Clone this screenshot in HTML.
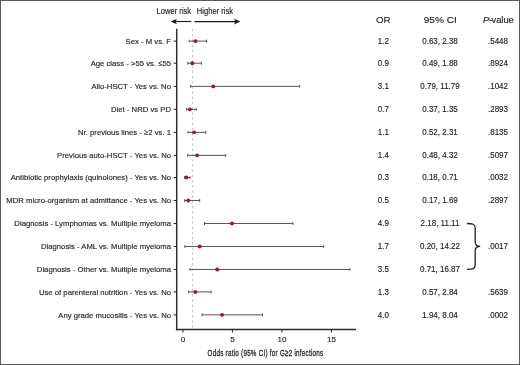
<!DOCTYPE html><html><head><meta charset="utf-8"><style>
html,body{margin:0;padding:0;background:#fff;}
body{width:520px;height:365px;overflow:hidden;position:relative;}
svg{position:absolute;left:0;top:0;will-change:transform;}
text{font-family:"Liberation Sans",sans-serif;fill:#222;stroke:#222;stroke-width:0.14px;}
</style></head><body>
<svg width="520" height="365" viewBox="0 0 520 365">
<rect x="0" y="0" width="520" height="365" fill="#fff"/>
<rect x="0.5" y="0.5" width="519" height="364" fill="none" stroke="#5a5a5a" stroke-width="1"/>
<text x="0" y="0" font-size="8.2" text-anchor="start" transform="translate(156.60 13.60) scale(0.9268 1)">Lower risk</text>
<text x="0" y="0" font-size="8.2" text-anchor="start" transform="translate(196.80 13.60) scale(0.9268 1)">Higher risk</text>
<line x1="175" y1="21.5" x2="191.2" y2="21.5" stroke="#1a1a1a" stroke-width="1.1"/>
<path d="M170.6 21.5 L176.9 18.7 L175.5 21.5 L176.9 24.3 Z" fill="#1a1a1a"/>
<line x1="194.5" y1="21.6" x2="236" y2="21.6" stroke="#1a1a1a" stroke-width="1.1"/>
<path d="M240.3 21.6 L234.0 18.8 L235.4 21.6 L234.0 24.4 Z" fill="#1a1a1a"/>
<line x1="192.6" y1="29" x2="192.6" y2="328.5" stroke="#c4c4c4" stroke-width="1" stroke-dasharray="2.5,2.7"/>
<line x1="176.7" y1="28.8" x2="176.7" y2="330.25" stroke="#2b2b2b" stroke-width="1.45"/>
<line x1="175.89999999999998" y1="329.5" x2="356" y2="329.5" stroke="#2b2b2b" stroke-width="1.45"/>
<line x1="182.93" y1="329.5" x2="182.93" y2="332.5" stroke="#222" stroke-width="1"/>
<text x="182.93" y="342.20" font-size="8.0" text-anchor="middle">0</text>
<line x1="232.43" y1="329.5" x2="232.43" y2="332.5" stroke="#222" stroke-width="1"/>
<text x="232.43" y="342.20" font-size="8.0" text-anchor="middle">5</text>
<line x1="281.93" y1="329.5" x2="281.93" y2="332.5" stroke="#222" stroke-width="1"/>
<text x="281.93" y="342.20" font-size="8.0" text-anchor="middle">10</text>
<line x1="331.43" y1="329.5" x2="331.43" y2="332.5" stroke="#222" stroke-width="1"/>
<text x="331.43" y="342.20" font-size="8.0" text-anchor="middle">15</text>
<text x="0" y="0" font-size="9.6" text-anchor="start" transform="translate(207.60 355.90) scale(0.6500 1)" letter-spacing="0.42" style="stroke-width:0.3px">Odds ratio (95% CI) for G≥2 infections</text>
<text x="383.30" y="23.10" font-size="9.7" text-anchor="middle">OR</text>
<text x="0" y="0" font-size="9.7" text-anchor="middle" transform="translate(440.20 23.10) scale(1.0400 1)">95% CI</text>
<text x="0" y="0" font-size="9.7" text-anchor="middle" transform="translate(498.40 23.10) scale(0.9650 1)"><tspan font-style="italic">P</tspan><tspan dx="-0.3">-</tspan><tspan dx="-0.6">value</tspan></text>
<text x="0" y="0" font-size="8.1" text-anchor="end" transform="translate(171.00 43.95) scale(0.9531 1)">Sex - M vs. F</text>
<line x1="173.7" y1="41.10" x2="176.7" y2="41.10" stroke="#222" stroke-width="1"/>
<line x1="189.17" y1="41.10" x2="206.49" y2="41.10" stroke="#555" stroke-width="1"/>
<line x1="189.17" y1="39.70" x2="189.17" y2="42.50" stroke="#555" stroke-width="1"/>
<line x1="206.49" y1="39.70" x2="206.49" y2="42.50" stroke="#555" stroke-width="1"/>
<circle cx="195.40" cy="41.10" r="1.95" fill="#a6132d"/>
<text x="0" y="0" font-size="8.2" text-anchor="middle" transform="translate(383.40 43.95) scale(0.9756 1)">1.2</text>
<text x="0" y="0" font-size="8.2" text-anchor="middle" transform="translate(440.00 43.95) scale(0.9756 1)">0.63, 2.38</text>
<text x="0" y="0" font-size="8.2" text-anchor="middle" transform="translate(498.00 43.95) scale(0.9756 1)">.5448</text>
<text x="0" y="0" font-size="8.1" text-anchor="end" transform="translate(171.00 66.05) scale(0.9531 1)">Age class - &gt;55 vs. ≤55</text>
<line x1="173.7" y1="63.20" x2="176.7" y2="63.20" stroke="#222" stroke-width="1"/>
<line x1="187.78" y1="63.20" x2="201.54" y2="63.20" stroke="#555" stroke-width="1"/>
<line x1="187.78" y1="61.80" x2="187.78" y2="64.60" stroke="#555" stroke-width="1"/>
<line x1="201.54" y1="61.80" x2="201.54" y2="64.60" stroke="#555" stroke-width="1"/>
<circle cx="192.30" cy="63.20" r="1.95" fill="#a6132d"/>
<text x="0" y="0" font-size="8.2" text-anchor="middle" transform="translate(383.40 66.05) scale(0.9756 1)">0.9</text>
<text x="0" y="0" font-size="8.2" text-anchor="middle" transform="translate(440.00 66.05) scale(0.9756 1)">0.49, 1.88</text>
<text x="0" y="0" font-size="8.2" text-anchor="middle" transform="translate(498.00 66.05) scale(0.9756 1)">.8924</text>
<text x="0" y="0" font-size="8.1" text-anchor="end" transform="translate(171.00 89.23) scale(0.9531 1)">Allo-HSCT - Yes vs. No</text>
<line x1="173.7" y1="86.38" x2="176.7" y2="86.38" stroke="#222" stroke-width="1"/>
<line x1="190.75" y1="86.38" x2="299.65" y2="86.38" stroke="#555" stroke-width="1"/>
<line x1="190.75" y1="84.98" x2="190.75" y2="87.78" stroke="#555" stroke-width="1"/>
<line x1="299.65" y1="84.98" x2="299.65" y2="87.78" stroke="#555" stroke-width="1"/>
<circle cx="213.30" cy="86.38" r="1.95" fill="#a6132d"/>
<text x="0" y="0" font-size="8.2" text-anchor="middle" transform="translate(383.40 89.23) scale(0.9756 1)">3.1</text>
<text x="0" y="0" font-size="8.2" text-anchor="middle" transform="translate(440.00 89.23) scale(0.9756 1)">0.79, 11.79</text>
<text x="0" y="0" font-size="8.2" text-anchor="middle" transform="translate(498.00 89.23) scale(0.9756 1)">.1042</text>
<text x="0" y="0" font-size="8.1" text-anchor="end" transform="translate(171.00 112.19) scale(0.9531 1)">Diet - NRD vs PD</text>
<line x1="173.7" y1="109.34" x2="176.7" y2="109.34" stroke="#222" stroke-width="1"/>
<line x1="186.59" y1="109.34" x2="196.30" y2="109.34" stroke="#555" stroke-width="1"/>
<line x1="186.59" y1="107.94" x2="186.59" y2="110.74" stroke="#555" stroke-width="1"/>
<line x1="196.30" y1="107.94" x2="196.30" y2="110.74" stroke="#555" stroke-width="1"/>
<circle cx="189.90" cy="109.34" r="1.95" fill="#a6132d"/>
<text x="0" y="0" font-size="8.2" text-anchor="middle" transform="translate(383.40 112.19) scale(0.9756 1)">0.7</text>
<text x="0" y="0" font-size="8.2" text-anchor="middle" transform="translate(440.00 112.19) scale(0.9756 1)">0.37, 1.35</text>
<text x="0" y="0" font-size="8.2" text-anchor="middle" transform="translate(498.00 112.19) scale(0.9756 1)">.2893</text>
<text x="0" y="0" font-size="8.1" text-anchor="end" transform="translate(171.00 135.19) scale(0.9531 1)">Nr. previous lines - ≥2 vs. 1</text>
<line x1="173.7" y1="132.34" x2="176.7" y2="132.34" stroke="#222" stroke-width="1"/>
<line x1="188.08" y1="132.34" x2="205.80" y2="132.34" stroke="#555" stroke-width="1"/>
<line x1="188.08" y1="130.94" x2="188.08" y2="133.74" stroke="#555" stroke-width="1"/>
<line x1="205.80" y1="130.94" x2="205.80" y2="133.74" stroke="#555" stroke-width="1"/>
<circle cx="194.10" cy="132.34" r="1.95" fill="#a6132d"/>
<text x="0" y="0" font-size="8.2" text-anchor="middle" transform="translate(383.40 135.19) scale(0.9756 1)">1.1</text>
<text x="0" y="0" font-size="8.2" text-anchor="middle" transform="translate(440.00 135.19) scale(0.9756 1)">0.52, 2.31</text>
<text x="0" y="0" font-size="8.2" text-anchor="middle" transform="translate(498.00 135.19) scale(0.9756 1)">.8135</text>
<text x="0" y="0" font-size="8.1" text-anchor="end" transform="translate(171.00 158.19) scale(0.9531 1)">Previous auto-HSCT - Yes vs. No</text>
<line x1="173.7" y1="155.34" x2="176.7" y2="155.34" stroke="#222" stroke-width="1"/>
<line x1="187.68" y1="155.34" x2="225.70" y2="155.34" stroke="#555" stroke-width="1"/>
<line x1="187.68" y1="153.94" x2="187.68" y2="156.74" stroke="#555" stroke-width="1"/>
<line x1="225.70" y1="153.94" x2="225.70" y2="156.74" stroke="#555" stroke-width="1"/>
<circle cx="197.05" cy="155.34" r="1.95" fill="#a6132d"/>
<text x="0" y="0" font-size="8.2" text-anchor="middle" transform="translate(383.40 158.19) scale(0.9756 1)">1.4</text>
<text x="0" y="0" font-size="8.2" text-anchor="middle" transform="translate(440.00 158.19) scale(0.9756 1)">0.48, 4.32</text>
<text x="0" y="0" font-size="8.2" text-anchor="middle" transform="translate(498.00 158.19) scale(0.9756 1)">.5097</text>
<text x="0" y="0" font-size="8.1" text-anchor="end" transform="translate(171.00 180.35) scale(0.9531 1)">Antibiotic prophylaxis (quinolones) - Yes vs. No</text>
<line x1="173.7" y1="177.50" x2="176.7" y2="177.50" stroke="#222" stroke-width="1"/>
<line x1="184.71" y1="177.50" x2="189.96" y2="177.50" stroke="#555" stroke-width="1"/>
<line x1="184.71" y1="176.10" x2="184.71" y2="178.90" stroke="#555" stroke-width="1"/>
<line x1="189.96" y1="176.10" x2="189.96" y2="178.90" stroke="#555" stroke-width="1"/>
<circle cx="186.30" cy="177.50" r="1.95" fill="#a6132d"/>
<text x="0" y="0" font-size="8.2" text-anchor="middle" transform="translate(383.40 180.35) scale(0.9756 1)">0.3</text>
<text x="0" y="0" font-size="8.2" text-anchor="middle" transform="translate(440.00 180.35) scale(0.9756 1)">0.18, 0.71</text>
<text x="0" y="0" font-size="8.2" text-anchor="middle" transform="translate(498.00 180.35) scale(0.9756 1)">.0032</text>
<text x="0" y="0" font-size="8.1" text-anchor="end" transform="translate(171.00 203.33) scale(0.9531 1)">MDR micro-organism at admittance - Yes vs. No</text>
<line x1="173.7" y1="200.48" x2="176.7" y2="200.48" stroke="#222" stroke-width="1"/>
<line x1="184.61" y1="200.48" x2="199.66" y2="200.48" stroke="#555" stroke-width="1"/>
<line x1="184.61" y1="199.08" x2="184.61" y2="201.88" stroke="#555" stroke-width="1"/>
<line x1="199.66" y1="199.08" x2="199.66" y2="201.88" stroke="#555" stroke-width="1"/>
<circle cx="188.20" cy="200.48" r="1.95" fill="#a6132d"/>
<text x="0" y="0" font-size="8.2" text-anchor="middle" transform="translate(383.40 203.33) scale(0.9756 1)">0.5</text>
<text x="0" y="0" font-size="8.2" text-anchor="middle" transform="translate(440.00 203.33) scale(0.9756 1)">0.17, 1.69</text>
<text x="0" y="0" font-size="8.2" text-anchor="middle" transform="translate(498.00 203.33) scale(0.9756 1)">.2897</text>
<text x="0" y="0" font-size="8.1" text-anchor="end" transform="translate(171.00 226.33) scale(0.9531 1)">Diagnosis - Lymphomas vs. Multiple myeloma</text>
<line x1="173.7" y1="223.48" x2="176.7" y2="223.48" stroke="#222" stroke-width="1"/>
<line x1="204.51" y1="223.48" x2="292.92" y2="223.48" stroke="#555" stroke-width="1"/>
<line x1="204.51" y1="222.08" x2="204.51" y2="224.88" stroke="#555" stroke-width="1"/>
<line x1="292.92" y1="222.08" x2="292.92" y2="224.88" stroke="#555" stroke-width="1"/>
<circle cx="232.00" cy="223.48" r="1.95" fill="#a6132d"/>
<text x="0" y="0" font-size="8.2" text-anchor="middle" transform="translate(383.40 226.33) scale(0.9756 1)">4.9</text>
<text x="0" y="0" font-size="8.2" text-anchor="middle" transform="translate(440.00 226.33) scale(0.9756 1)">2.18, 11.11</text>
<text x="0" y="0" font-size="8.1" text-anchor="end" transform="translate(171.00 249.33) scale(0.9531 1)">Diagnosis - AML vs. Multiple myeloma</text>
<line x1="173.7" y1="246.48" x2="176.7" y2="246.48" stroke="#222" stroke-width="1"/>
<line x1="184.91" y1="246.48" x2="323.71" y2="246.48" stroke="#555" stroke-width="1"/>
<line x1="184.91" y1="245.08" x2="184.91" y2="247.88" stroke="#555" stroke-width="1"/>
<line x1="323.71" y1="245.08" x2="323.71" y2="247.88" stroke="#555" stroke-width="1"/>
<circle cx="199.70" cy="246.48" r="1.95" fill="#a6132d"/>
<text x="0" y="0" font-size="8.2" text-anchor="middle" transform="translate(383.40 249.33) scale(0.9756 1)">1.7</text>
<text x="0" y="0" font-size="8.2" text-anchor="middle" transform="translate(440.00 249.33) scale(0.9756 1)">0.20, 14.22</text>
<text x="0" y="0" font-size="8.1" text-anchor="end" transform="translate(171.00 272.33) scale(0.9531 1)">Diagnosis - Other vs. Multiple myeloma</text>
<line x1="173.7" y1="269.48" x2="176.7" y2="269.48" stroke="#222" stroke-width="1"/>
<line x1="189.96" y1="269.48" x2="349.94" y2="269.48" stroke="#555" stroke-width="1"/>
<line x1="189.96" y1="268.08" x2="189.96" y2="270.88" stroke="#555" stroke-width="1"/>
<line x1="349.94" y1="268.08" x2="349.94" y2="270.88" stroke="#555" stroke-width="1"/>
<circle cx="217.20" cy="269.48" r="1.95" fill="#a6132d"/>
<text x="0" y="0" font-size="8.2" text-anchor="middle" transform="translate(383.40 272.33) scale(0.9756 1)">3.5</text>
<text x="0" y="0" font-size="8.2" text-anchor="middle" transform="translate(440.00 272.33) scale(0.9756 1)">0.71, 16.87</text>
<text x="0" y="0" font-size="8.1" text-anchor="end" transform="translate(171.00 294.78) scale(0.9531 1)">Use of parenteral nutrition - Yes vs. No</text>
<line x1="173.7" y1="291.93" x2="176.7" y2="291.93" stroke="#222" stroke-width="1"/>
<line x1="188.57" y1="291.93" x2="211.05" y2="291.93" stroke="#555" stroke-width="1"/>
<line x1="188.57" y1="290.53" x2="188.57" y2="293.33" stroke="#555" stroke-width="1"/>
<line x1="211.05" y1="290.53" x2="211.05" y2="293.33" stroke="#555" stroke-width="1"/>
<circle cx="195.30" cy="291.93" r="1.95" fill="#a6132d"/>
<text x="0" y="0" font-size="8.2" text-anchor="middle" transform="translate(383.40 294.78) scale(0.9756 1)">1.3</text>
<text x="0" y="0" font-size="8.2" text-anchor="middle" transform="translate(440.00 294.78) scale(0.9756 1)">0.57, 2.84</text>
<text x="0" y="0" font-size="8.2" text-anchor="middle" transform="translate(498.00 294.78) scale(0.9756 1)">.5639</text>
<text x="0" y="0" font-size="8.1" text-anchor="end" transform="translate(171.00 317.70) scale(0.9531 1)">Any grade mucositis - Yes vs. No</text>
<line x1="173.7" y1="314.85" x2="176.7" y2="314.85" stroke="#222" stroke-width="1"/>
<line x1="202.14" y1="314.85" x2="262.53" y2="314.85" stroke="#555" stroke-width="1"/>
<line x1="202.14" y1="313.45" x2="202.14" y2="316.25" stroke="#555" stroke-width="1"/>
<line x1="262.53" y1="313.45" x2="262.53" y2="316.25" stroke="#555" stroke-width="1"/>
<circle cx="222.10" cy="314.85" r="1.95" fill="#a6132d"/>
<text x="0" y="0" font-size="8.2" text-anchor="middle" transform="translate(383.40 317.70) scale(0.9756 1)">4.0</text>
<text x="0" y="0" font-size="8.2" text-anchor="middle" transform="translate(440.00 317.70) scale(0.9756 1)">1.94, 8.04</text>
<text x="0" y="0" font-size="8.2" text-anchor="middle" transform="translate(498.00 317.70) scale(0.9756 1)">.0002</text>
<path d="M466.9 223.5 C472.6 223.5 475.2 223.9 475.2 228.1 L475.2 242 C475.2 244.9 477.3 246.4 480.2 246.4 C477.3 246.4 475.2 247.9 475.2 250.8 L475.2 264.8 C475.2 269 472.6 269.4 466.9 269.4" fill="none" stroke="#222" stroke-width="1.3"/>
<text x="0" y="0" font-size="8.2" text-anchor="middle" transform="translate(498.00 249.33) scale(0.9756 1)">.0017</text>
</svg></body></html>
